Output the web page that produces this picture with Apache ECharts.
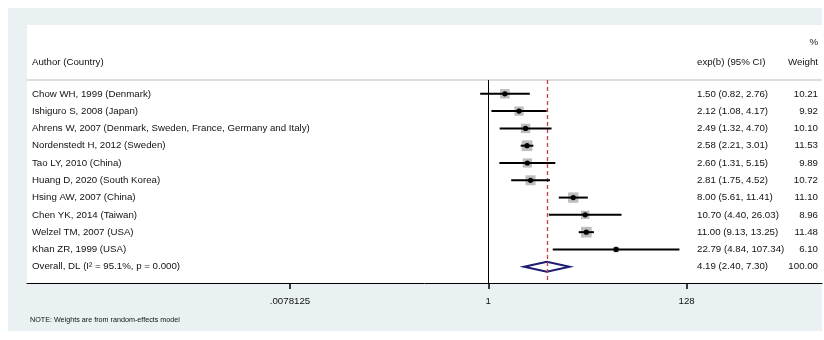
<!DOCTYPE html>
<html>
<head>
<meta charset="utf-8">
<script src="https://cdn.jsdelivr.net/npm/echarts@6/dist/echarts.min.js"></script>
<style>
  html, body { margin: 0; padding: 0; background: #fff; }
  #chart { width: 824px; height: 340px; }
</style>
</head>
<body>
<div id="chart"></div>
<script>
// Study rows (top to bottom)
const studies = [
  'Chow WH, 1999 (Denmark)',
  'Ishiguro S, 2008 (Japan)',
  'Ahrens W, 2007 (Denmark, Sweden, France, Germany and Italy)',
  'Nordenstedt H, 2012 (Sweden)',
  'Tao LY, 2010 (China)',
  'Huang D, 2020 (South Korea)',
  'Hsing AW, 2007 (China)',
  'Chen YK, 2014 (Taiwan)',
  'Welzel TM, 2007 (USA)',
  'Khan ZR, 1999 (USA)'
];
const estimates = [1.50, 2.12, 2.49, 2.58, 2.60, 2.81, 8.00, 10.70, 11.00, 22.79];
const lowerCI   = [0.82, 1.08, 1.32, 2.21, 1.31, 1.75, 5.61, 4.40, 9.13, 4.84];
const upperCI   = [2.76, 4.17, 4.70, 3.01, 5.15, 4.52, 11.41, 26.03, 13.25, 107.34];
const weights   = [10.21, 9.92, 10.10, 11.53, 9.89, 10.72, 11.10, 8.96, 11.48, 6.10];

// Pooled (random-effects, DerSimonian-Laird) result
const overallLabel = 'Overall, DL (I\u00B2 = 95.1%, p = 0.000)';
const overallEst = 4.19;
const overallLower = 2.40;
const overallUpper = 7.30;
const overallWeight = 100.00;

// Horizontal axis ticks (log base 2)
const tickValues = [0.0078125, 1, 128];
const tickLabels = ['.0078125', '1', '128'];

const FONT = '"Liberation Sans", Arial, Helvetica, sans-serif';
const TEXT = '#111';
const FS = 9.7;
const RED = '#c83c48';

const rowLabels = studies.concat([overallLabel]);
const allEst = estimates.concat([overallEst]);
const allLo = lowerCI.concat([overallLower]);
const allHi = upperCI.concat([overallUpper]);
const allW = weights.concat([overallWeight]);
const rowIdx = rowLabels.map((_, i) => i);

const fmt = v => v.toFixed(2);
const ciText = rowIdx.map(i => `${fmt(allEst[i])} (${fmt(allLo[i])}, ${fmt(allHi[i])})`);
const wText = allW.map(w => w.toFixed(2));

const studyData = estimates.map((e, i) => [e, i, lowerCI[i], upperCI[i], weights[i]]);
const overallData = [[overallEst, studies.length, overallLower, overallUpper]];

function renderStudy(params, api) {
  const y = api.value(1);
  const pe = api.coord([api.value(0), y]);
  const pl = api.coord([api.value(2), y]);
  const ph = api.coord([api.value(3), y]);
  const side = 0.93 * api.value(4);
  return {
    type: 'group',
    children: [
      { type: 'rect', shape: { x: pe[0] - side / 2, y: pe[1] - side / 2, width: side, height: side },
        style: { fill: '#bdbdbd' } },
      { type: 'line', shape: { x1: pl[0], y1: pl[1], x2: ph[0], y2: ph[1] },
        style: { stroke: '#000', lineWidth: 2 } },
      { type: 'circle', shape: { cx: pe[0], cy: pe[1], r: 2.6 }, style: { fill: '#000' } }
    ]
  };
}

function renderDiamond(params, api) {
  const y = api.value(1);
  const pe = api.coord([api.value(0), y]);
  const pl = api.coord([api.value(2), y]);
  const ph = api.coord([api.value(3), y]);
  const h = 5;
  return {
    type: 'polygon',
    shape: { points: [[pl[0], pe[1]], [pe[0], pe[1] - h], [ph[0], pe[1]], [pe[0], pe[1] + h]] },
    style: { fill: 'none', stroke: '#1c1c72', lineWidth: 2 }
  };
}

const nearestTick = v => tickValues.findIndex(t => Math.abs(Math.log2(t) - Math.log2(v)) < 1e-6);

const yCommon = {
  type: 'value', inverse: true, min: -0.8, max: 10.94,
  axisLine: { show: false }, axisTick: { show: false }, splitLine: { show: false }
};

const chart = echarts.init(document.getElementById('chart'));
chart.setOption({
  backgroundColor: '#fff',
  animation: false,
  textStyle: { fontFamily: FONT },
  graphic: [
    { type: 'rect', z: -10, shape: { x: 8, y: 8, width: 814, height: 323 }, style: { fill: '#e9f1f2' } },
    { type: 'rect', z: -9, shape: { x: 27, y: 25, width: 795, height: 258 }, style: { fill: '#fff' } },
    { type: 'line', z: 1, shape: { x1: 27, y1: 80, x2: 822, y2: 80 }, style: { stroke: '#d2d2d2', lineWidth: 1.5 } },
    { type: 'text', x: 32, y: 62, style: { text: 'Author (Country)', fill: TEXT, font: FS + 'px ' + FONT, align: 'left', verticalAlign: 'middle' } },
    { type: 'text', x: 697, y: 62, style: { text: 'exp(b) (95% CI)', fill: TEXT, font: FS + 'px ' + FONT, align: 'left', verticalAlign: 'middle' } },
    { type: 'text', x: 818, y: 62, style: { text: 'Weight', fill: TEXT, font: FS + 'px ' + FONT, align: 'right', verticalAlign: 'middle' } },
    { type: 'text', x: 818, y: 42, style: { text: '%', fill: TEXT, font: FS + 'px ' + FONT, align: 'right', verticalAlign: 'middle' } },
    { type: 'text', x: 30, y: 320, style: { text: 'NOTE: Weights are from random-effects model', fill: TEXT, font: '7.2px ' + FONT, align: 'left', verticalAlign: 'middle' } }
  ],
  grid: { left: 27, right: 2, top: 80, bottom: 57, outerBoundsMode: 'none' },
  xAxis: {
    type: 'log', logBase: 2,
    min: Math.pow(2, -16.283), max: Math.pow(2, 11.779),
    axisLine: { onZero: false, lineStyle: { color: '#000', width: 1 } },
    axisTick: { customValues: tickValues, length: 6, lineStyle: { color: '#000', width: 1.5 } },
    axisLabel: {
      customValues: tickValues, margin: 13, fontSize: FS, color: TEXT, fontFamily: FONT,
      formatter: v => tickLabels[nearestTick(v)]
    },
    splitLine: { show: false }
  },
  yAxis: [
    Object.assign({}, yCommon, {
      position: 'left',
      axisLabel: {
        inside: true, margin: 5, fontSize: FS, color: TEXT, fontFamily: FONT,
        customValues: rowIdx, formatter: v => rowLabels[v]
      }
    }),
    Object.assign({}, yCommon, {
      position: 'right',
      axisLabel: {
        inside: true, margin: 4, fontSize: FS, color: TEXT, fontFamily: FONT,
        customValues: rowIdx,
        formatter: v => `{ci|${ciText[v]}}{w|${wText[v]}}`,
        rich: {
          ci: { width: 86, align: 'left', fontSize: FS, color: TEXT, fontFamily: FONT },
          w: { width: 35, align: 'right', fontSize: FS, color: TEXT, fontFamily: FONT }
        }
      }
    })
  ],
  series: [
    {
      type: 'custom', name: 'studies', renderItem: renderStudy,
      encode: { x: [0, 2, 3], y: 1 }, data: studyData, z: 5, silent: true,
      markLine: {
        silent: true, symbol: 'none', label: { show: false },
        lineStyle: { color: '#000', width: 1, type: 'solid' },
        data: [{ xAxis: 1 }]
      }
    },
    {
      type: 'custom', name: 'overall', renderItem: renderDiamond,
      encode: { x: [0, 2, 3], y: 1 }, data: overallData, z: 4, silent: true,
      itemStyle: { color: RED },
      markLine: {
        silent: true, symbol: 'none', label: { show: false },
        lineStyle: { color: RED, width: 1.3, type: [4, 3], opacity: 1 },
        data: [{ xAxis: overallEst, lineStyle: { color: RED } }]
      }
    }
  ]
});
</script>
</body>
</html>
